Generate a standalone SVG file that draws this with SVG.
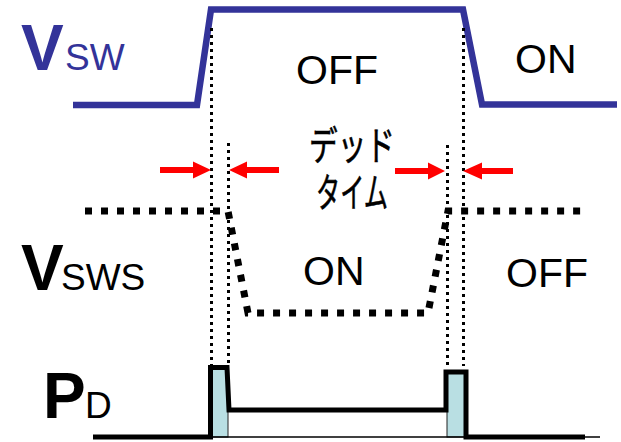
<svg xmlns="http://www.w3.org/2000/svg" width="621" height="442" viewBox="0 0 621 442">
<style>
.lbl{font-family:"Liberation Sans",Arial,sans-serif;}
.big{font-weight:bold;font-size:64px;}
.sub{font-size:37px;}
.st{font-family:"Liberation Sans",Arial,sans-serif;font-size:41px;fill:#000;}
.jp{font-family:"Noto Sans CJK JP",sans-serif;font-size:40px;fill:#000;stroke:#000;stroke-width:0.6;}
.dot{fill:none;stroke:#000;stroke-width:3;stroke-dasharray:3 4;}
.arrow{fill:#ff0000;}
.wave{fill:none;stroke:#000;stroke-width:5;stroke-linejoin:miter;}
.fillp{fill:#b9dfe3;stroke:#222;stroke-width:1;}
</style>
<rect width="621" height="442" fill="#fff"/>

<g id="vsw-label" class="lbl" fill="#333399">
  <text x="21" y="70" class="big">V</text>
  <text x="65" y="70" class="sub">SW</text>
</g>
<g id="vsws-label" class="lbl" fill="#000">
  <text x="21" y="290" class="big">V</text>
  <text x="61" y="290" class="sub">SWS</text>
</g>
<g id="pd-label" class="lbl" fill="#000">
  <text x="43" y="418" class="big">P</text>
  <text x="85" y="418" class="sub">D</text>
</g>

<g id="vsw-wave">
  <path d="M73,105 H197 L211,9.5 H463 L482,104.5 H617" fill="none" stroke="#333399" stroke-width="6.5" stroke-linejoin="miter"/>
</g>
<g id="vsws-wave">
  <path d="M85,211 H228 L248,313 H428 L448,211 H582" fill="none" stroke="#000" stroke-width="7" stroke-dasharray="7 9"/>
</g>
<g id="pd-wave">
  <rect class="fillp" x="212" y="369" width="16" height="68"/>
  <rect class="fillp" x="447" y="372" width="18" height="65"/>
  <line x1="212" y1="437" x2="600" y2="437" stroke="#000" stroke-width="1.5"/>
  <path class="wave" d="M93,437 H210.5 V367.5 H227 L229,410 H446 V372 H466 V437 H585"/>
</g>

<g id="state-labels">
  <text class="st" x="296" y="84">OFF</text>
  <text class="st" x="515" y="73">ON</text>
  <text class="st" x="303" y="285">ON</text>
  <text class="st" x="506" y="287">OFF</text>
</g>
<g id="deadtime-label">
  <text class="jp" x="309" y="160" textLength="86" lengthAdjust="spacingAndGlyphs">デッド</text>
  <text class="jp" x="316" y="207" textLength="72" lengthAdjust="spacingAndGlyphs">タイム</text>
</g>

<g id="connectors">
  <line class="dot" x1="211.5" y1="28" x2="211.5" y2="366"/>
  <line class="dot" x1="228.5" y1="143" x2="228.5" y2="366"/>
  <line class="dot" x1="447.5" y1="145" x2="447.5" y2="366"/>
  <line class="dot" x1="463.5" y1="28" x2="463.5" y2="366"/>
  <polygon class="arrow" points="160,167 193,167 193,161.5 211,170 193,178.5 193,173 160,173"/>
  <polygon class="arrow" points="279,167 247,167 247,161.5 229,170 247,178.5 247,173 279,173"/>
  <polygon class="arrow" points="395,168 428,168 428,162.5 445,171 428,179.5 428,174 395,174"/>
  <polygon class="arrow" points="513,168 482,168 482,162.5 463,171 482,179.5 482,174 513,174"/>
</g>
</svg>
